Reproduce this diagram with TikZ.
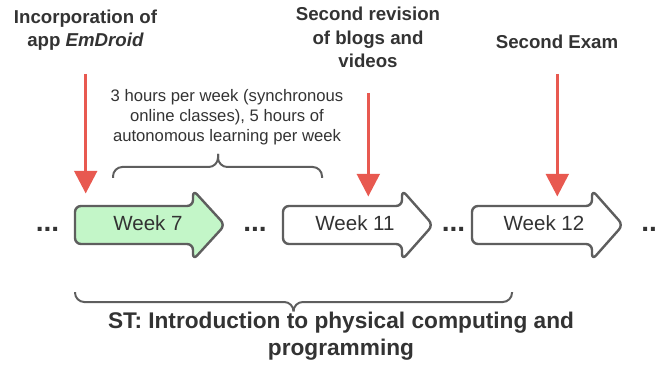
\documentclass[tikz,border=0pt]{standalone}
\usepackage{fontspec}
\setmainfont{Liberation Sans}
\usetikzlibrary{arrows.meta}

\definecolor{txtgray}{RGB}{51,51,51}
\definecolor{edgegray}{RGB}{94,94,94}
\definecolor{weekgreen}{RGB}{195,246,200}
\definecolor{markred}{RGB}{232,89,80}

\tikzset{
  weekshape/.style={draw=edgegray, line width=1.8pt, rounded corners=4.5pt, line join=round},
  weeklabel/.style={inner sep=0.75pt, font=\fontsize{15.4}{18}\selectfont, text=txtgray},
  eventlabel/.style={inner sep=0.75pt, align=center, font=\fontsize{14}{17.5}\selectfont\bfseries, text=txtgray},
  notelabel/.style={inner sep=0.75pt, align=center, font=\fontsize{12.5}{15}\selectfont, text=txtgray},
  courselabel/.style={inner sep=0.75pt, align=center, font=\fontsize{17}{20}\selectfont\bfseries, text=txtgray},
  dotslabel/.style={inner sep=0pt, font=\fontsize{21}{22}\selectfont\bfseries, text=txtgray},
  markarrow/.style={draw=markred, line width=2.5pt, -{Triangle[length=17pt,width=17pt]}},
  bracepath/.style={draw=edgegray, line width=1.5pt, rounded corners=7pt},
}

\begin{document}
\begin{tikzpicture}[x=0.75pt,y=0.75pt,yscale=-1,xscale=1]
\useasboundingbox (0,0) rectangle (655,366);

%Shape: Week 7 arrow
\draw [weekshape, fill=weekgreen] (75,206) -- (193,206) -- (193,190) -- (225,225) -- (193,260) -- (193,244) -- (75,244) -- cycle ;
%Shape: Week 11 arrow
\draw [weekshape, fill=white] (283,206) -- (402,206) -- (402,190) -- (433,225) -- (402,260) -- (402,244) -- (283,244) -- cycle ;
%Shape: Week 12 arrow
\draw [weekshape, fill=white] (472,206) -- (592,206) -- (592,190) -- (623,225) -- (592,260) -- (592,244) -- (472,244) -- cycle ;

% Text Node
\draw (148,223) node (wk7) [weeklabel] {Week 7};
% Text Node
\draw (355,223) node (wk11) [weeklabel] {Week 11};
% Text Node
\draw (544,223) node (wk12) [weeklabel] {Week 12};

% Text Node
\draw (47.5,231.5) node (dots1) [dotslabel, anchor=base] {...};
% Text Node
\draw (255,231.5) node (dots2) [dotslabel, anchor=base] {...};
% Text Node
\draw (453.5,231.5) node (dots3) [dotslabel, anchor=base] {...};
% Text Node
\draw (653,231.5) node (dots4) [dotslabel, anchor=base] {...};

% Text Node
\draw (85.5,30) node (ev1) [eventlabel] {Incorporation of\\app \textit{EmDroid}};
% Text Node
\draw (368,37.5) node (ev2) [eventlabel] {Second revision\\of blogs and\\videos};
% Text Node
\draw (557,41.7) node (ev3) [eventlabel] {Second Exam};

%Straight Lines: event markers
\coordinate (m1a) at (85.7,74);
\coordinate (m1b) at (85.7,193.5);
\coordinate (m2a) at (368.3,93);
\coordinate (m2b) at (368.3,196.5);
\coordinate (m3a) at (557.3,74);
\coordinate (m3b) at (557.3,196.5);
\draw [markarrow] (m1a) -- (m1b) ;
\draw [markarrow] (m2a) -- (m2b) ;
\draw [markarrow] (m3a) -- (m3b) ;

% Text Node
\draw (227,116.7) node (hours) [notelabel] {3 hours per week (synchronous\\online classes), 5 hours of\\autonomous learning per week};

%Shape: Brace over Week 7
\draw [bracepath] (113,178) -- (113,167) -- (218,167) -- (218,154) ;
\draw [bracepath] (322,178) -- (322,167) -- (218,167) -- (218,154) ;

%Shape: Brace under the weeks
\draw [bracepath] (75,292) -- (75,302) -- (293.5,302) -- (293.5,309) ;
\draw [bracepath] (512,292) -- (512,302) -- (293.5,302) -- (293.5,309) ;

% Text Node
\draw (341,336) node (course) [courselabel] {ST: Introduction to physical computing and\\programming};

\end{tikzpicture}
\end{document}
